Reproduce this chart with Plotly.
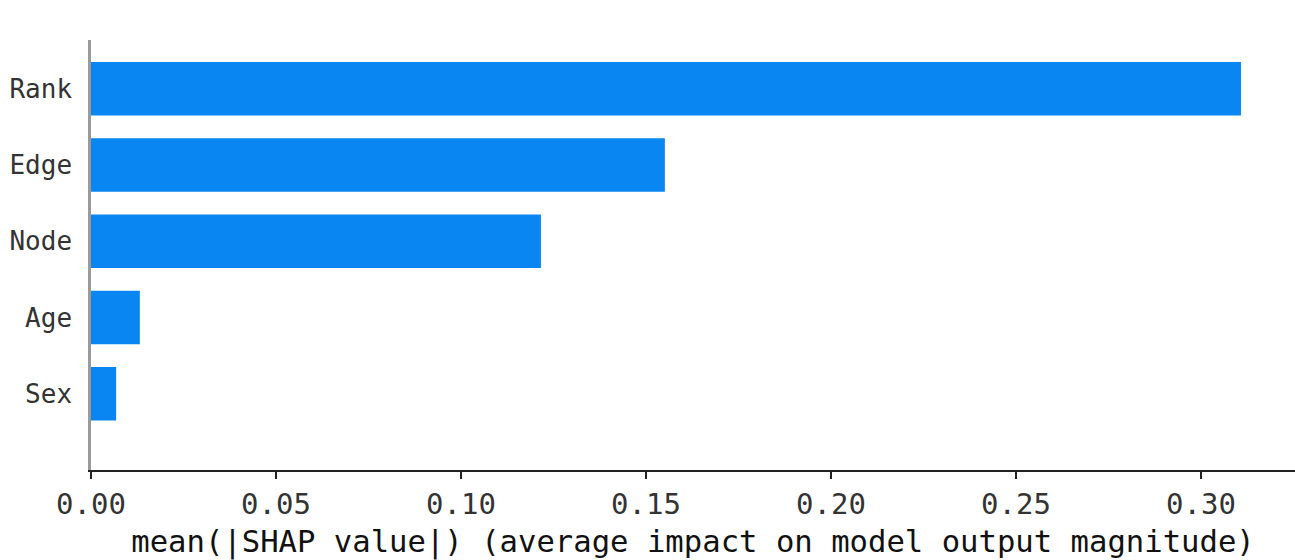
import plotly.graph_objects as go

features = ["Sex", "Age", "Node", "Edge", "Rank"]
mean_abs_shap = [0.0068, 0.0132, 0.1216, 0.1551, 0.3108]
tick_values = [0.00, 0.05, 0.10, 0.15, 0.20, 0.25, 0.30]
x_title = "mean(|SHAP value|) (average impact on model output magnitude)"

FONT = "DejaVu Sans Mono"

fig = go.Figure(
    go.Bar(
        x=mean_abs_shap,
        y=features,
        orientation="h",
        width=0.7,
        marker=dict(color="#0A86F2", line=dict(width=0)),
    )
)

fig.update_layout(
    width=1295,
    height=560,
    margin=dict(l=91, r=0, t=40, b=90),
    plot_bgcolor="white",
    paper_bgcolor="white",
    showlegend=False,
)

fig.update_xaxes(
    range=[0, 0.3254],
    tickvals=tick_values,
    tickformat=".2f",
    showline=True,
    linecolor="#222222",
    linewidth=1.5,
    ticks="outside",
    ticklen=7,
    tickwidth=1.5,
    tickcolor="#222222",
    showgrid=False,
    zeroline=False,
    tickfont=dict(family=FONT, size=29, color="#333333"),
    title=dict(text=x_title, font=dict(family=FONT, size=30.6, color="#111111"), standoff=13),
    automargin=False,
)

fig.update_yaxes(
    categoryorder="array",
    categoryarray=features,
    range=[-1, 4.64],
    showline=True,
    linecolor="#9A9A9A",
    linewidth=2.5,
    ticks="",
    showgrid=False,
    zeroline=False,
    tickfont=dict(family=FONT, size=26, color="#333333"),
    ticklabelstandoff=11,
    automargin=False,
)

fig.write_html("out.html")
